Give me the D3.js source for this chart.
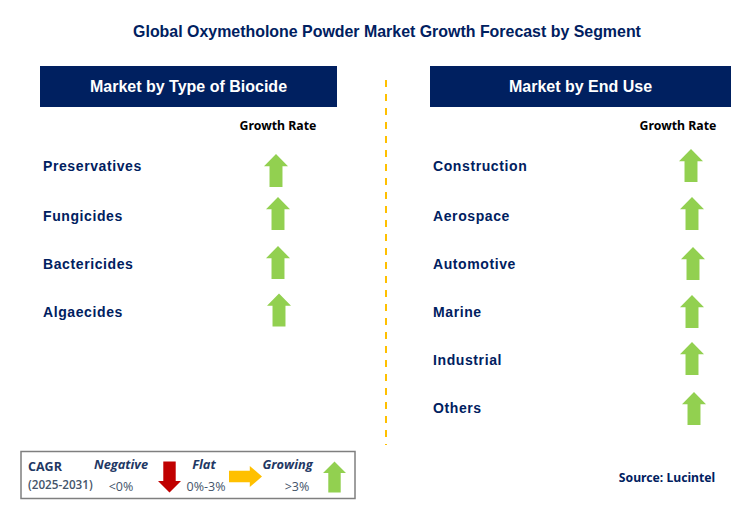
<!DOCTYPE html>
<html>
<head>
<meta charset="utf-8">
<script src="https://cdnjs.cloudflare.com/ajax/libs/d3/7.8.5/d3.min.js"></script>
<style>
  html, body { margin: 0; padding: 0; background: #fff; }
  svg { display: block; }
  text { font-family: "Liberation Sans", Arial, sans-serif; }
</style>
</head>
<body>
<div id="chart"></div>
<script>
const chartTitle = 'Global Oxymetholone Powder Market Growth Forecast by Segment';
const leftTitle = 'Market by Type of Biocide';
const rightTitle = 'Market by End Use';
const columnTitle = 'Growth Rate';
const sourceText = 'Source: Lucintel';

const biocideTypes = ['Preservatives', 'Fungicides', 'Bactericides', 'Algaecides'];
const biocideTrend = ['Growing', 'Growing', 'Growing', 'Growing'];
const endUses = ['Construction', 'Aerospace', 'Automotive', 'Marine', 'Industrial', 'Others'];
const endUseTrend = ['Growing', 'Growing', 'Growing', 'Growing', 'Growing', 'Growing'];

const legendNames = ['Negative', 'Flat', 'Growing'];
const legendRanges = ['<0%', '0%-3%', '>3%'];

const width = 745, height = 528;
const navy = '#002060', green = '#92D050', red = '#C00000', amber = '#FFC000';

const svg = d3.select('#chart').append('svg')
  .attr('width', width)
  .attr('height', height);

// row positions of the two tables
const rowY = d3.scaleOrdinal()
  .domain(endUses.map((d, i) => i))
  .range([166, 216, 264, 312, 360, 408]);

// the arrows sit a little unevenly in the picture, so each panel has its own placing
const leftArrowX = d3.scaleOrdinal().domain(biocideTypes).range([276, 278, 278, 279]);
const leftArrowY = d3.scaleOrdinal().domain(biocideTypes).range([170.5, 213.5, 262.5, 310]);
const rightArrowX = d3.scaleOrdinal().domain(endUses).range([691, 692, 693, 692, 692, 694]);
const rightArrowY = d3.scaleOrdinal().domain(endUses).range([165.5, 213.5, 263.5, 311.5, 358.5, 408.5]);

// arrow pointing up, centred on 0,0 - rotated for the other trends
const arrowPath = (w, h) => {
  const head = h * 0.37, stem = w * 0.27;
  return d3.line()([
    [0, -h / 2], [w / 2, -h / 2 + head], [stem, -h / 2 + head], [stem, h / 2],
    [-stem, h / 2], [-stem, -h / 2 + head], [-w / 2, -h / 2 + head]
  ]) + 'Z';
};
const trendStyle = {
  Negative: { fill: red, rotate: 180 },
  Flat: { fill: amber, rotate: 90 },
  Growing: { fill: green, rotate: 0 }
};
const drawArrow = (g, x, y, trend, w, h) => g.append('path')
  .attr('d', arrowPath(w, h))
  .attr('fill', trendStyle[trend].fill)
  .attr('transform', `translate(${x},${y}) rotate(${trendStyle[trend].rotate})`);

svg.append('text')
  .attr('x', 387).attr('y', 37)
  .attr('text-anchor', 'middle')
  .attr('font-size', 15.93).attr('font-weight', 'bold')
  .attr('fill', navy)
  .text(chartTitle);

function drawPanel(x, w, title, cats, trends, labelX, columnX, arrowX, arrowY) {
  const g = svg.append('g');
  g.append('rect')
    .attr('x', x).attr('y', 66)
    .attr('width', w).attr('height', 41)
    .attr('fill', navy);
  g.append('text')
    .attr('x', x + w / 2).attr('y', 92)
    .attr('text-anchor', 'middle')
    .attr('font-size', 16).attr('font-weight', 'bold')
    .attr('fill', '#fff')
    .text(title);
  g.append('text')
    .attr('x', columnX).attr('y', 129.5)
    .attr('text-anchor', 'middle')
    .style('font-family', '"Noto Sans", sans-serif')
    .attr('font-size', 12.3).attr('font-weight', 'bold')
    .attr('fill', '#000')
    .text(columnTitle);
  cats.forEach((c, i) => {
    g.append('text')
      .attr('x', labelX).attr('y', rowY(i) + 5)
      .attr('font-size', 14).attr('font-weight', 'bold')
      .attr('letter-spacing', 0.6)
      .attr('fill', navy)
      .text(c);
    drawArrow(g, arrowX(c), arrowY(c), trends[i], 24, 33);
  });
}

drawPanel(40, 297, leftTitle, biocideTypes, biocideTrend, 43, 278, leftArrowX, leftArrowY);
drawPanel(430, 301, rightTitle, endUses, endUseTrend, 433, 678, rightArrowX, rightArrowY);

// divider between the panels
svg.append('line')
  .attr('x1', 386).attr('x2', 386)
  .attr('y1', 80).attr('y2', 445)
  .attr('stroke', amber).attr('stroke-width', 2)
  .attr('stroke-dasharray', '7 7');

svg.append('text')
  .attr('x', 667).attr('y', 482)
  .attr('text-anchor', 'middle')
  .style('font-family', '"Noto Sans", sans-serif')
  .attr('font-size', 12.2).attr('font-weight', 'bold')
  .attr('fill', navy)
  .text(sourceText);

// CAGR legend
const legend = svg.append('g');
legend.append('rect')
  .attr('x', 21).attr('y', 451.5)
  .attr('width', 334).attr('height', 47)
  .attr('fill', '#fff')
  .attr('stroke', '#7f7f7f').attr('stroke-width', 1.5);
legend.append('text')
  .attr('x', 28).attr('y', 471)
  .style('font-family', '"Open Sans", sans-serif')
  .attr('font-size', 12.5).attr('font-weight', 'bold')
  .attr('fill', '#1f3864')
  .text('CAGR');
legend.append('text')
  .attr('x', 28).attr('y', 489)
  .style('font-family', '"Open Sans", sans-serif')
  .attr('font-size', 11.7).attr('font-weight', '600')
  .attr('fill', '#44546a')
  .text('(2025-2031)');

const nameX = [121, 204, 287.5];
const rangeX = [121, 206, 297];
const arrowSpec = [[169.5, 477, 23, 31], [245.5, 476.5, 21, 33], [334.5, 477, 23, 31]];
legendNames.forEach((n, i) => {
  legend.append('text')
    .attr('x', nameX[i]).attr('y', 469)
    .attr('text-anchor', 'middle')
    .style('font-family', '"Open Sans", sans-serif')
    .attr('font-size', 12.8).attr('font-weight', 'bold').attr('font-style', 'italic')
    .attr('fill', '#1f3864')
    .text(n);
  legend.append('text')
    .attr('x', rangeX[i]).attr('y', 491)
    .attr('text-anchor', 'middle')
    .style('font-family', '"Open Sans", sans-serif')
    .attr('font-size', 12.5)
    .attr('fill', '#44546a')
    .text(legendRanges[i]);
  const [ax, ay, aw, ah] = arrowSpec[i];
  drawArrow(legend, ax, ay, n, aw, ah);
});
</script>
</body>
</html>
